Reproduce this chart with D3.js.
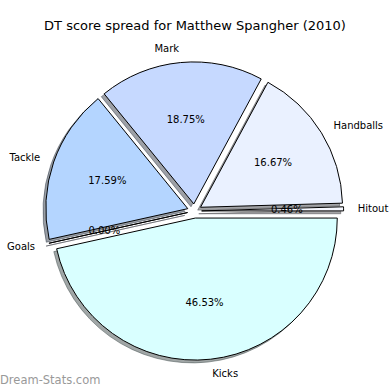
<!DOCTYPE html>
<html><head><meta charset="utf-8">
<script src="https://cdn.jsdelivr.net/npm/d3@7"></script>
<style>html,body{margin:0;padding:0;background:#fff;}svg{display:block;}</style>
</head><body>
<svg id="c" width="390" height="390"></svg>
<script>
const categories = ["Hitout", "Handballs", "Mark", "Tackle", "Goals", "Kicks"];
const values = [0.46, 16.67, 18.75, 17.59, 0.00, 46.53];
const colors = ["#f6f8ff", "#eaf1ff", "#c6d9ff", "#b4d5ff", "#e0e8ff", "#d9ffff"];
const titleText = "DT score spread for Matthew Spangher (2010)";

const svg = d3.select("#c");
const W = 390, H = 390;
const cx = 194.5, cy = 211, R = 142;
const explode = 0.05 * R;
const font = "DejaVu Sans, sans-serif";

svg.append("text").attr("x", 195).attr("y", 25).attr("text-anchor", "middle")
  .attr("dominant-baseline", "central").style("font-family", font).style("font-size", "13px")
  .text(titleText);

const pie = d3.pie().sort(null).value(d => d)
  .startAngle(Math.PI / 2).endAngle(Math.PI / 2 - 2 * Math.PI);
const arcs = pie(values);
const arc = d3.arc().innerRadius(0).outerRadius(R);

const g = svg.append("g").attr("transform", `translate(${cx},${cy})`);
const dir = a => [Math.sin(a), -Math.cos(a)];

// shadows
const shOff = 0.02 * R;
arcs.forEach((a, i) => {
  const m = (a.startAngle + a.endAngle) / 2;
  const [dx, dy] = dir(m);
  const c = d3.rgb(colors[i]);
  const sc = d3.rgb(c.r * 0.3, c.g * 0.3, c.b * 0.3);
  g.append("path").attr("d", arc(a))
    .attr("transform", `translate(${dx * explode - shOff},${dy * explode + shOff})`)
    .attr("fill", sc).attr("fill-opacity", 0.5)
    .attr("stroke", sc).attr("stroke-opacity", 0.5).attr("stroke-width", 1);
});
// wedges
arcs.forEach((a, i) => {
  const m = (a.startAngle + a.endAngle) / 2;
  const [dx, dy] = dir(m);
  g.append("path").attr("d", arc(a))
    .attr("transform", `translate(${dx * explode},${dy * explode})`)
    .attr("fill", colors[i]).attr("stroke", "#000").attr("stroke-width", 1)
    .attr("stroke-linejoin", "miter");
});
// labels
arcs.forEach((a, i) => {
  const m = (a.startAngle + a.endAngle) / 2;
  const [dx, dy] = dir(m);
  const lr = explode + 1.1 * R;
  const lx = dx * lr, ly = dy * lr;
  g.append("text").attr("x", lx).attr("y", ly)
    .attr("text-anchor", lx > 0 ? "start" : "end")
    .attr("dominant-baseline", "central")
    .style("font-family", font).style("font-size", "10px")
    .text(categories[i]);
  const pr = explode + 0.6 * R;
  g.append("text").attr("x", dx * pr).attr("y", dy * pr)
    .attr("text-anchor", "middle").attr("dominant-baseline", "central")
    .style("font-family", font).style("font-size", "10px")
    .text(values[i].toFixed(2) + "%");
});

svg.append("text").attr("x", 0).attr("y", 380).attr("dominant-baseline", "central")
  .style("font-family", font).style("font-size", "11.5px").attr("fill", "#999")
  .text("Dream-Stats.com");
</script>
</body></html>
